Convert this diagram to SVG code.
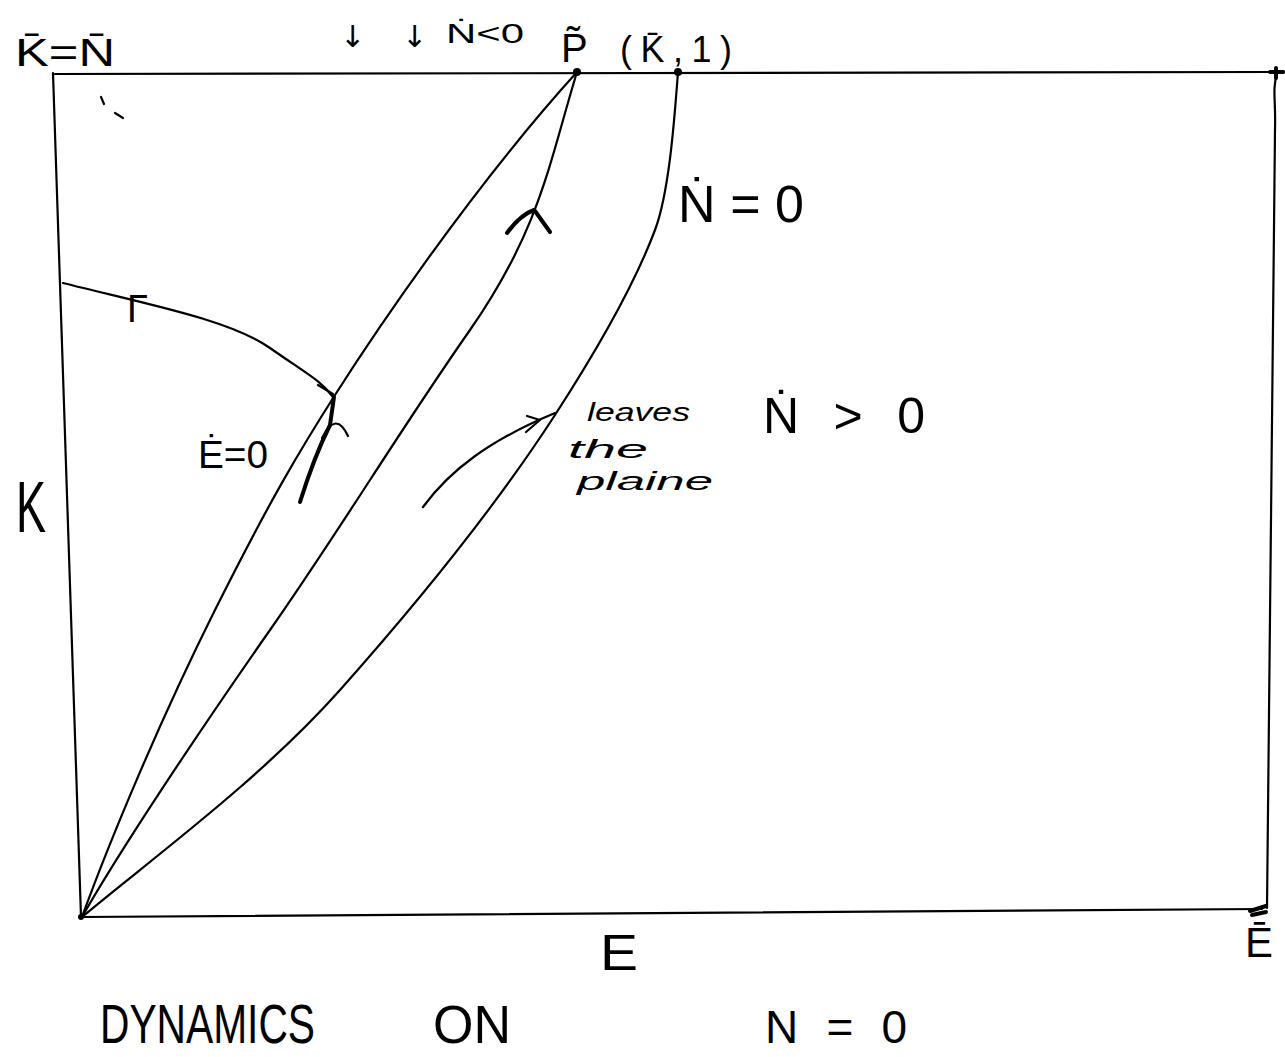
<svg xmlns="http://www.w3.org/2000/svg" width="1285" height="1057" viewBox="0 0 1285 1057">
<style>
.ln{fill:none;stroke:#000;stroke-width:2.2;stroke-linecap:round;stroke-linejoin:round}
.th{fill:none;stroke:#000;stroke-width:4;stroke-linecap:round;stroke-linejoin:round}
.tx{font-family:"Liberation Sans","DejaVu Sans",sans-serif;fill:#000}
.hw{font-family:"Liberation Sans","DejaVu Sans",sans-serif;font-style:italic;fill:#000}
</style>
<rect width="1285" height="1057" fill="#fff"/>
<g id="frame">
<path class="ln" d="M55,74 L1285,72"/>
<path class="ln" d="M53,73 L81,917"/>
<path class="ln" d="M81,917 L1262,909"/>
<path class="ln" d="M1277,74 C1272,90 1276,100 1275,130 L1267,908"/>
<path class="th" d="M1250,911 L1266,906 M1252,915 L1266,912"/>
<path class="th" d="M1270,72 L1283,72 M1276,68 L1276,78"/>
<path class="ln" stroke-width="1" d="M101,97 L104,104 M115,113 L123,118"/>
</g>
<g id="curves">
<path id="edot0" class="ln" d="M82,917 C110,840 160,720 215,610 S300,450 335,395 S470,190 577,72"/>
<path id="middle" class="ln" d="M82,917 C120,850 200,730 270,630 S400,430 470,330 S550,160 577,72"/>
<path id="ndot0" class="ln" d="M82,917 C150,860 260,780 340,690 S500,500 555,415 S640,270 655,230 S675,110 678,72"/>
<path id="gamma" class="ln" d="M63,283 C150,305 230,320 270,348 S320,380 333,397"/>
<path class="ln" d="M318,385 L333,394"/>
</g>
<g id="trajectories">
<path class="th" d="M300,502 C310,470 320,445 330,425 L334,397"/>
<path class="ln" d="M322,438 Q336,410 348,436"/>
<path class="th" d="M507,233 Q520,215 534,210"/>
<path class="th" d="M535,211 L550,232"/>
<path class="ln" d="M423,507 C450,470 490,440 555,413"/>
<path class="ln" d="M527,416 L540,420 L526,432"/>
</g>
<g id="points">
<circle cx="577" cy="72" r="4"/>
<circle cx="678" cy="72" r="4"/>
<circle cx="81" cy="917" r="3"/>
</g>
<g id="labels">
<text class="tx" x="15" y="66" font-size="38" textLength="100" lengthAdjust="spacingAndGlyphs">K̄=N̄</text>
<text x="340" y="47" font-size="30" font-family="DejaVu Sans, sans-serif">↓</text>
<text x="402" y="47" font-size="30" font-family="DejaVu Sans, sans-serif">↓</text>
<text class="tx" x="446" y="43" font-size="28" textLength="78" lengthAdjust="spacingAndGlyphs">Ṅ&lt;0</text>
<text class="tx" x="561" y="62" font-size="40">P̃</text>
<text class="tx" x="620" y="62" font-size="36" textLength="112" lengthAdjust="spacing">(K̄,1)</text>
<text class="tx" x="678" y="222" font-size="52" textLength="126" lengthAdjust="spacing">Ṅ=0</text>
<text class="tx" x="763" y="433" font-size="50" textLength="162" lengthAdjust="spacing">Ṅ &gt; 0</text>
<text class="tx" x="198" y="468" font-size="38" textLength="70" lengthAdjust="spacingAndGlyphs">Ė=0</text>
<text class="tx" x="127" y="322" font-size="38">Γ</text>
<text class="hw" x="587" y="421" font-size="26" textLength="103" lengthAdjust="spacingAndGlyphs">leaves</text>
<text class="hw" x="568" y="458" font-size="26" textLength="80" lengthAdjust="spacingAndGlyphs">the</text>
<text class="hw" x="577" y="490" font-size="26" textLength="136" lengthAdjust="spacingAndGlyphs">plaine</text>
<text class="tx" x="16" y="532" font-size="72" textLength="30" lengthAdjust="spacingAndGlyphs">K</text>
<text class="tx" x="600" y="970" font-size="50" textLength="38" lengthAdjust="spacingAndGlyphs">E</text>
<text class="tx" x="1245" y="957" font-size="42" textLength="28" lengthAdjust="spacingAndGlyphs">Ē</text>
<text class="tx" x="100" y="1043" font-size="56" textLength="215" lengthAdjust="spacingAndGlyphs">DYNAMICS</text>
<text class="tx" x="433" y="1043" font-size="54" textLength="78" lengthAdjust="spacingAndGlyphs">ON</text>
<text class="tx" x="765" y="1043" font-size="46" textLength="142" lengthAdjust="spacing">N=0</text>
</g>
</svg>
